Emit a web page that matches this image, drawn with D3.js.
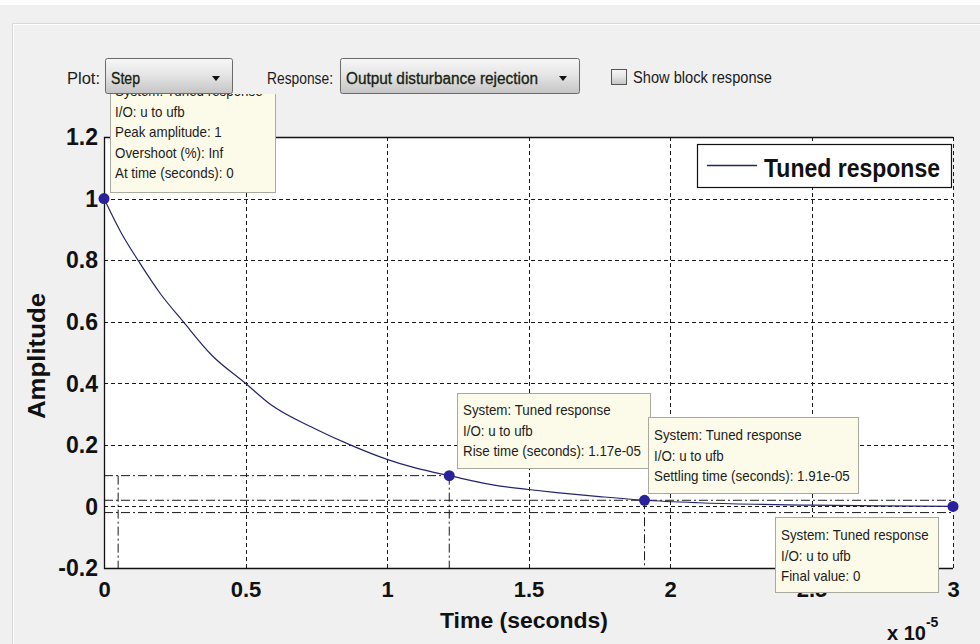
<!DOCTYPE html>
<html>
<head>
<meta charset="utf-8">
<script src="https://cdn.jsdelivr.net/npm/d3@7"></script>
<style>
  html, body { margin: 0; padding: 0; background: #f0f0f0; }
  svg { display: block; }
  text { font-family: "Liberation Sans", Arial, sans-serif; }
</style>
</head>
<body>
<svg id="chart" width="980" height="644"></svg>
<script>
// Step response of the tuned loop (time in units of 1e-5 s)
const responseTime = [0, 0.06, 0.12, 0.2, 0.28, 0.38, 0.5, 0.59, 0.74, 0.87, 1.0, 1.1, 1.22, 1.4, 1.5, 1.6, 1.75, 1.91, 2.1, 2.3, 2.5, 2.75, 3.0];
const responseAmp  = [1, 0.89, 0.8, 0.69, 0.6, 0.492, 0.4, 0.33, 0.255, 0.2, 0.153, 0.125, 0.1, 0.066, 0.055, 0.045, 0.032, 0.02, 0.012, 0.007, 0.004, 0.002, 0];

// Axis ticks
const timeTicks = [0, 0.5, 1, 1.5, 2, 2.5, 3];
const ampTicks = [-0.2, 0, 0.2, 0.4, 0.6, 0.8, 1, 1.2];

// Response characteristics
const peakAmp = 1, peakTime = 0;
const riseStart = 0.05, riseTime = 1.17, riseLevel = 0.1;
const settleTime = 1.91, settleBand = 0.02;
const finalValue = 0;

const seriesName = "Tuned response";
const ioName = "u to ufb";

const svg = d3.select("#chart");
const W = 980, H = 644;

// Figure background and panel edge
svg.append("rect").attr("width", W).attr("height", H).attr("fill", "#f0f0f0");
svg.append("rect").attr("width", W).attr("height", 5).attr("fill", "#ffffff");
svg.append("path").attr("d", "M12.5,644V23.5H980").attr("fill", "none").attr("stroke", "#d8d8d8");
svg.append("path").attr("d", "M13.5,644V24.5H980").attr("fill", "none").attr("stroke", "#ffffff");

const x = d3.scaleLinear().domain([0, 3]).range([104, 953]);
const y = d3.scaleLinear().domain([-0.2, 1.2]).range([568, 137]);

const [x0, x1] = x.range();
const [y0, y1] = y.range();

// Plot area
svg.append("rect").attr("x", x0).attr("y", y1).attr("width", x1 - x0).attr("height", y0 - y1).attr("fill", "#ffffff");

// Grid
const grid = svg.append("g").attr("stroke", "#1a1a1a").attr("stroke-width", 1).attr("stroke-dasharray", "4,3");
grid.selectAll("line.v").data(timeTicks.filter(d => d > 0)).join("line")
  .attr("x1", d => Math.round(x(d)) + 0.5).attr("x2", d => Math.round(x(d)) + 0.5)
  .attr("y1", y1).attr("y2", y0);
grid.selectAll("line.h").data(ampTicks.filter(d => d > -0.2 && d < 1.2)).join("line")
  .attr("x1", x0).attr("x2", x1)
  .attr("y1", d => Math.round(y(d)) + 0.5).attr("y2", d => Math.round(y(d)) + 0.5);

// Characteristic guide lines (dash-dot)
const guides = svg.append("g").attr("stroke", "#1a1a1a").attr("stroke-width", 1).attr("stroke-dasharray", "9,3,2,3").attr("fill", "none");
const riseEnd = riseStart + riseTime;
const settleAmp = settleBand;
guides.append("line").attr("x1", x0).attr("x2", x(riseEnd)).attr("y1", y(riseLevel)).attr("y2", y(riseLevel));
guides.append("line").attr("x1", x(riseStart)).attr("x2", x(riseStart)).attr("y1", y(riseLevel)).attr("y2", y0);
guides.append("line").attr("x1", x(riseEnd)).attr("x2", x(riseEnd)).attr("y1", y(riseLevel)).attr("y2", y0);
[settleBand, -settleBand].forEach(b => {
  guides.append("line").attr("x1", x0).attr("x2", x1).attr("y1", y(finalValue + b)).attr("y2", y(finalValue + b));
});
guides.append("line").attr("x1", x(settleTime)).attr("x2", x(settleTime)).attr("y1", y(settleAmp)).attr("y2", y0);

// Axes box (left, top, bottom solid)
svg.append("path").attr("d", `M${x1},${y1 + 0.5}H${x0 + 0.5}V${y0 + 0.5}H${x1}`)
  .attr("fill", "none").attr("stroke", "#111").attr("stroke-width", 1.3);

// Tick labels via d3 axes
const fmt = d => String(Math.round(d * 10) / 10);
const xAxis = svg.append("g").attr("transform", `translate(0,${y0})`)
  .call(d3.axisBottom(x).tickValues(timeTicks).tickFormat(fmt).tickSize(0));
xAxis.select(".domain").remove();
xAxis.selectAll("text").attr("y", 13).attr("font-size", 22).attr("font-weight", "bold").attr("fill", "#111")
  .attr("font-family", "Liberation Sans, Arial, sans-serif");

const yAxis = svg.append("g").attr("transform", `translate(${x0},0)`)
  .call(d3.axisLeft(y).tickValues(ampTicks).tickFormat(fmt).tickSize(0));
yAxis.select(".domain").remove();
yAxis.selectAll("text").attr("x", -6).attr("dy", "0.34em").attr("font-size", 23).attr("font-weight", "bold").attr("fill", "#111")
  .attr("font-family", "Liberation Sans, Arial, sans-serif");

// Axis titles
svg.append("text").attr("transform", "translate(45,356) rotate(-90)").attr("text-anchor", "middle")
  .attr("font-size", 24).attr("font-weight", "bold").attr("fill", "#111")
  .attr("textLength", 126).attr("lengthAdjust", "spacingAndGlyphs").text("Amplitude");
svg.append("text").attr("x", 524).attr("y", 628).attr("text-anchor", "middle")
  .attr("font-size", 22).attr("font-weight", "bold").attr("fill", "#111").attr("textLength", 168).attr("lengthAdjust", "spacingAndGlyphs")
  .text("Time (seconds)");
const expo = svg.append("text").attr("x", 887).attr("y", 640).attr("font-size", 20).attr("font-weight", "bold").attr("fill", "#111");
expo.append("tspan").text("x 10");
expo.append("tspan").attr("dy", -13).attr("font-size", 14).text("-5");

// Response curve
const line = d3.line().x((d, i) => x(responseTime[i])).y(d => y(d)).curve(d3.curveMonotoneX);
svg.append("path").datum(responseAmp).attr("d", line).attr("fill", "none")
  .attr("stroke", "#23236e").attr("stroke-width", 1.2);

// Characteristic markers
const markerTime = [peakTime, riseEnd, settleTime, 3];
const markerAmp = [peakAmp, riseLevel, settleAmp, finalValue];
svg.selectAll("circle.mk").data(markerTime).join("circle")
  .attr("cx", d => x(d)).attr("cy", (d, i) => y(markerAmp[i])).attr("r", 5.5)
  .attr("fill", "#2a229a");

// Legend
const lg = svg.append("g");
lg.append("rect").attr("x", 697.5).attr("y", 144.5).attr("width", 254).attr("height", 43)
  .attr("fill", "#fff").attr("stroke", "#111").attr("stroke-width", 1.2);
lg.append("line").attr("x1", 707).attr("x2", 757).attr("y1", 165.5).attr("y2", 165.5).attr("stroke", "#23236e").attr("stroke-width", 1.3);
lg.append("text").attr("x", 764).attr("y", 177).attr("font-size", 25).attr("font-weight", "bold").attr("fill", "#111")
  .attr("textLength", 176).attr("lengthAdjust", "spacingAndGlyphs").text(seriesName);

// Data tips
const defs = svg.append("defs");
let tipId = 0;
function dataTip(bx, by, bw, bh, lines, tx, firstBase, clipTop) {
  const g = svg.append("g");
  if (clipTop !== undefined) {
    const id = "tipclip" + (tipId++);
    defs.append("clipPath").attr("id", id).append("rect")
      .attr("x", bx - 2).attr("y", clipTop).attr("width", bw + 4).attr("height", by + bh + 4 - clipTop);
    g.attr("clip-path", `url(#${id})`);
  }
  g.append("rect").attr("x", bx + 0.5).attr("y", by + 0.5).attr("width", bw).attr("height", bh)
    .attr("fill", "#fcfbe9").attr("stroke", "#a9a9a0").attr("stroke-width", 1);
  lines.forEach((t, i) => {
    const el = g.append("text").attr("x", tx).attr("y", firstBase + i * 20.5).attr("font-size", 14.5)
      .attr("fill", "#1c1c1c").text(t);
    const w = el.node().getComputedTextLength();
    el.attr("textLength", w * 0.92).attr("lengthAdjust", "spacingAndGlyphs");
  });
}
const sysLine = `System: ${seriesName}`;
const ioLine = `I/O: ${ioName}`;
const expFmt = v => (v).toFixed(2) + "e-05";
dataTip(110, 86, 165, 106, [sysLine, ioLine, `Peak amplitude: ${peakAmp}`, "Overshoot (%): Inf", `At time (seconds): ${peakTime}`], 115, 96, 94);
dataTip(457, 393, 193, 75, [sysLine, ioLine, `Rise time (seconds): ${expFmt(riseTime)}`], 463, 415);
dataTip(648, 417, 210, 76, [sysLine, ioLine, `Settling time (seconds): ${expFmt(settleTime)}`], 654, 440);
dataTip(775, 517, 163, 75, [sysLine, ioLine, `Final value: ${finalValue}`], 781, 540);

// Controls row
const grad = defs.append("linearGradient").attr("id", "btn").attr("x1", 0).attr("x2", 0).attr("y1", 0).attr("y2", 1);
grad.append("stop").attr("offset", "0%").attr("stop-color", "#f7f7f7");
grad.append("stop").attr("offset", "45%").attr("stop-color", "#e6e6e6");
grad.append("stop").attr("offset", "100%").attr("stop-color", "#c4c4c4");

function dropdown(bx, bw, label, labelW) {
  const g = svg.append("g");
  g.append("rect").attr("x", bx + 0.5).attr("y", 58.5).attr("width", bw).attr("height", 35).attr("rx", 2)
    .attr("fill", "url(#btn)").attr("stroke", "#6a6a6a");
  g.append("text").attr("x", bx + 6).attr("y", 84).attr("font-size", 16).attr("fill", "#17210f")
    .attr("stroke", "#17210f").attr("stroke-width", 0.3)
    .attr("textLength", labelW).attr("lengthAdjust", "spacingAndGlyphs").text(label);
  const ax = bx + bw - 16;
  g.append("path").attr("d", `M${ax - 4},76L${ax + 4},76L${ax},81Z`).attr("fill", "#111");
}
svg.append("text").attr("x", 67).attr("y", 84).attr("font-size", 16).attr("fill", "#1b1b1b")
  .attr("textLength", 33).attr("lengthAdjust", "spacingAndGlyphs").text("Plot:");
dropdown(105, 127, "Step", 29);
svg.append("text").attr("x", 267).attr("y", 84).attr("font-size", 16).attr("fill", "#1b1b1b")
  .attr("textLength", 66).attr("lengthAdjust", "spacingAndGlyphs").text("Response:");
dropdown(340, 239, "Output disturbance rejection", 192);
svg.append("rect").attr("x", 611.5).attr("y", 69.5).attr("width", 15).attr("height", 15)
  .attr("fill", "url(#btn)").attr("stroke", "#555");
svg.append("text").attr("x", 633).attr("y", 83).attr("font-size", 16).attr("fill", "#1b1b1b")
  .attr("textLength", 139).attr("lengthAdjust", "spacingAndGlyphs").text("Show block response");
</script>
</body>
</html>
